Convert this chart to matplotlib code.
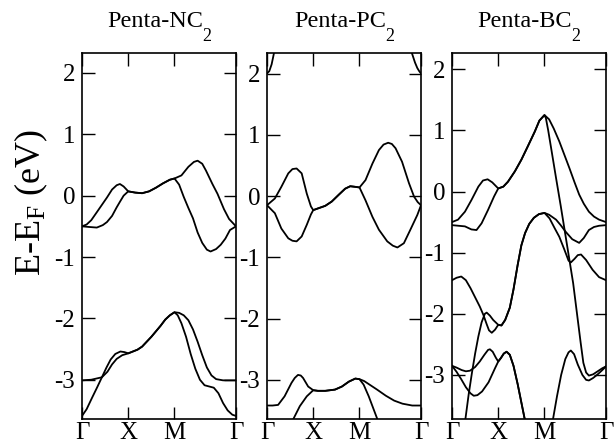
import matplotlib
matplotlib.use('Agg')
import matplotlib.pyplot as plt

plt.rcParams['font.family'] = ['Liberation Serif', 'DejaVu Serif']
plt.rcParams['mathtext.fontset'] = 'custom'
plt.rcParams['mathtext.rm'] = 'Liberation Serif'
plt.rcParams['mathtext.it'] = 'Liberation Serif:italic'
plt.rcParams['axes.unicode_minus'] = False

# k-path: Gamma = 0, X = 1, M = 2, Gamma = 3.33
kpts = [0, 1, 2, 3.33]
klabels = ['Γ', 'X', 'M', 'Γ']
titles = ['Penta-NC', 'Penta-PC', 'Penta-BC']
ylims = [(-3.64, 2.33), (-3.64, 2.34), (-3.72, 2.27)]

# ---- Penta-NC2 ----
nc2_c1_k = [0, 0.1, 0.2, 0.32, 0.43, 0.54, 0.65, 0.75, 0.82, 0.9, 1.0,
            1.15, 1.3, 1.45, 1.6, 1.75, 1.9, 2.0,
            2.15, 2.3, 2.42, 2.5, 2.6, 2.68, 2.82, 2.93, 3.07, 3.18, 3.33]
nc2_c1_e = [-0.5, -0.47, -0.4, -0.27, -0.15, -0.03, 0.1, 0.17, 0.19, 0.15, 0.07,
            0.05, 0.04, 0.07, 0.13, 0.2, 0.26, 0.28,
            0.33, 0.47, 0.55, 0.57, 0.52, 0.41, 0.19, 0.03, -0.22, -0.38, -0.5]
nc2_c2_k = [0, 0.15, 0.32, 0.45, 0.54, 0.65, 0.75, 0.82, 0.9, 1.0,
            1.15, 1.3, 1.45, 1.6, 1.75, 1.9, 2.0,
            2.1, 2.2, 2.3, 2.4, 2.5, 2.6, 2.7, 2.78, 2.9, 3.0, 3.1, 3.2, 3.33]
nc2_c2_e = [-0.5, -0.51, -0.52, -0.48, -0.43, -0.33, -0.19, -0.1, 0.0, 0.07,
            0.05, 0.04, 0.07, 0.13, 0.2, 0.26, 0.28,
            0.18, -0.02, -0.2, -0.37, -0.6, -0.77, -0.88, -0.91, -0.87, -0.8, -0.7, -0.56, -0.5]
nc2_v1_k = [0, 0.2, 0.43, 0.55, 0.65, 0.75, 0.87, 1.0,
            1.1, 1.2, 1.3, 1.4, 1.5, 1.6, 1.7, 1.8, 1.9, 2.0,
            2.1, 2.2, 2.3, 2.4, 2.5, 2.6, 2.7, 2.8, 2.9, 3.05, 3.2, 3.33]
nc2_v1_e = [-3.01, -3.0, -2.96, -2.87, -2.75, -2.66, -2.6, -2.57,
            -2.54, -2.51, -2.46, -2.38, -2.3, -2.21, -2.12, -2.02, -1.95, -1.9,
            -1.91, -1.95, -2.03, -2.18, -2.38, -2.6, -2.8, -2.93, -2.99, -3.01, -3.01, -3.01]
nc2_v2_k = [0, 0.1, 0.22, 0.33, 0.43, 0.53, 0.62, 0.72, 0.83, 0.92, 1.0,
            1.1, 1.2, 1.3, 1.4, 1.5, 1.6, 1.7, 1.8, 1.9, 2.0,
            2.07, 2.15, 2.25, 2.35, 2.45, 2.55, 2.65, 2.75, 2.85, 2.95, 3.05, 3.15, 3.25, 3.33]
nc2_v2_e = [-3.59, -3.48, -3.29, -3.12, -2.96, -2.8, -2.67, -2.58, -2.54, -2.55, -2.57,
            -2.54, -2.51, -2.46, -2.38, -2.3, -2.21, -2.12, -2.02, -1.95, -1.9,
            -1.95, -2.08, -2.3, -2.58, -2.82, -3.0, -3.09, -3.11, -3.13, -3.22, -3.38, -3.5, -3.57, -3.59]

# ---- Penta-PC2 ----
pc2_t1_k = [0, 0.05, 0.1, 0.15, 0.18]
pc2_t1_e = [2.0, 2.04, 2.15, 2.33, 2.45]
pc2_t2_k = [3.1, 3.13, 3.2, 3.25, 3.29, 3.33]
pc2_t2_e = [2.45, 2.34, 2.18, 2.09, 2.04, 2.0]
pc2_c1_k = [0, 0.17, 0.31, 0.46, 0.55, 0.64, 0.75, 0.86, 0.95, 1.0,
            1.11, 1.26, 1.4, 1.55, 1.69, 1.8, 1.91, 2.0,
            2.13, 2.28, 2.42, 2.52, 2.62, 2.7, 2.78, 2.92, 3.07, 3.18, 3.26, 3.33]
pc2_c1_e = [-0.15, -0.04, 0.15, 0.37, 0.44, 0.45, 0.37, 0.04, -0.17, -0.23,
            -0.2, -0.16, -0.09, 0.02, 0.12, 0.16, 0.15, 0.14,
            0.26, 0.53, 0.75, 0.84, 0.87, 0.85, 0.78, 0.56, 0.21, -0.01, -0.1, -0.15]
pc2_c2_k = [0, 0.17, 0.31, 0.46, 0.55, 0.64, 0.75, 0.86, 0.95, 1.0,
            1.11, 1.26, 1.4, 1.55, 1.69, 1.8, 1.91, 2.0,
            2.13, 2.28, 2.42, 2.6, 2.72, 2.82, 2.96, 3.1, 3.25, 3.33]
pc2_c2_e = [-0.15, -0.28, -0.53, -0.69, -0.73, -0.74, -0.66, -0.47, -0.3, -0.23,
            -0.2, -0.16, -0.09, 0.02, 0.12, 0.16, 0.15, 0.14,
            -0.07, -0.34, -0.55, -0.74, -0.81, -0.84, -0.77, -0.55, -0.31, -0.15]
pc2_v1_k = [0, 0.12, 0.24, 0.38, 0.53, 0.6, 0.67, 0.73, 0.78, 0.89, 1.0,
            1.1, 1.26, 1.47, 1.62, 1.77, 1.91, 2.0,
            2.1, 2.2, 2.38, 2.57, 2.75, 2.93, 3.14, 3.33]
pc2_v1_e = [-3.42, -3.42, -3.41, -3.27, -3.05, -2.97, -2.92, -2.93, -2.97, -3.11, -3.17,
            -3.18, -3.18, -3.16, -3.11, -3.03, -2.98, -2.99,
            -3.02, -3.07, -3.16, -3.26, -3.34, -3.39, -3.42, -3.42]
pc2_v2_k = [0.5, 0.57, 0.71, 0.86, 1.0,
            1.1, 1.26, 1.47, 1.62, 1.77, 1.91, 2.0,
            2.09, 2.2, 2.31, 2.38, 2.45]
pc2_v2_e = [-3.75, -3.64, -3.43, -3.27, -3.17,
            -3.18, -3.18, -3.16, -3.11, -3.03, -2.98, -2.99,
            -3.08, -3.27, -3.49, -3.63, -3.8]

# ---- Penta-BC2 ----
bc2_xm_top_k = [1.11, 1.21, 1.36, 1.5, 1.64, 1.79, 1.89, 2.0]
bc2_xm_top_e = [0.08, 0.16, 0.33, 0.52, 0.74, 0.98, 1.16, 1.25]
bc2_b1_k = [0, 0.13, 0.28, 0.42, 0.57, 0.67, 0.77, 0.87, 1.0] + bc2_xm_top_k + \
           [2.1, 2.2, 2.32, 2.43, 2.54, 2.65, 2.75, 2.85, 2.96, 3.07, 3.18, 3.33]
bc2_b1_e = [-0.5, -0.46, -0.33, -0.14, 0.08, 0.18, 0.2, 0.15, 0.05] + bc2_xm_top_e + \
           [1.18, 1.03, 0.82, 0.6, 0.38, 0.15, -0.05, -0.2, -0.33, -0.41, -0.46, -0.5]
bc2_b2_k = [0, 0.14, 0.28, 0.42, 0.53, 0.64, 0.78, 0.91, 1.0] + bc2_xm_top_k + \
           [2.03, 2.08, 2.15, 2.25, 2.35, 2.45, 2.55, 2.62, 2.7, 2.78, 2.84, 2.9, 2.96,
            3.05, 3.15, 3.25, 3.33]
bc2_b2_e = [-0.55, -0.56, -0.57, -0.62, -0.63, -0.52, -0.3, -0.08, 0.05] + bc2_xm_top_e + \
           [1.2, 1.0, 0.68, 0.22, -0.23, -0.7, -1.17, -1.5, -1.98, -2.46, -2.8, -2.96, -3.01,
            -2.99, -2.94, -2.89, -2.86]
bc2_xm_mid_k = [1.07, 1.15, 1.25, 1.33, 1.42, 1.5, 1.58, 1.67, 1.77, 1.88, 2.0]
bc2_xm_mid_e = [-2.19, -2.1, -1.9, -1.6, -1.2, -0.88, -0.68, -0.53, -0.43, -0.37, -0.35]
bc2_c1_k = [0, 0.1, 0.2, 0.3, 0.4, 0.5, 0.6, 0.68, 0.75, 0.8, 0.86, 0.93, 1.0] + bc2_xm_mid_k + \
           [2.1, 2.25, 2.35, 2.46, 2.6, 2.75, 2.85, 2.96, 3.07, 3.18, 3.33]
bc2_c1_e = [-1.45, -1.41, -1.39, -1.45, -1.58, -1.73, -1.88, -2.02, -2.17, -2.27, -2.31, -2.26, -2.18] + \
           bc2_xm_mid_e + [-0.38, -0.46, -0.55, -0.66, -0.78, -0.84, -0.76, -0.63, -0.58, -0.56, -0.55]
bc2_c2_k = [0.22, 0.29, 0.36, 0.43, 0.5, 0.57, 0.64, 0.71, 0.75, 0.82, 0.89, 1.0] + bc2_xm_mid_k + \
           [2.11, 2.22, 2.32, 2.43, 2.52, 2.57, 2.65, 2.72, 2.79, 2.9, 3.04, 3.18, 3.33]
bc2_c2_e = [-3.95, -3.72, -3.32, -2.97, -2.65, -2.37, -2.14, -2.0, -1.98, -2.03, -2.1, -2.18] + \
           bc2_xm_mid_e + [-0.44, -0.6, -0.74, -0.95, -1.13, -1.16, -1.1, -1.04, -1.03, -1.12, -1.28, -1.4, -1.45]
bc2_xm_low_k = [1.06, 1.12, 1.18, 1.25, 1.33, 1.42, 1.5, 1.58, 1.66]
bc2_xm_low_e = [-2.72, -2.65, -2.62, -2.67, -2.85, -3.15, -3.45, -3.75, -4.05]
bc2_e1_k = [0, 0.1, 0.21, 0.3, 0.39, 0.5, 0.6, 0.7, 0.78, 0.82, 0.88, 0.95, 1.0] + bc2_xm_low_k
bc2_e1_e = [-2.85, -2.88, -2.92, -2.94, -2.93, -2.87, -2.78, -2.67, -2.59, -2.58, -2.62, -2.72, -2.78] + bc2_xm_low_e
bc2_e2_k = [0, 0.1, 0.2, 0.3, 0.4, 0.47, 0.55, 0.65, 0.79, 0.93, 1.0] + bc2_xm_low_k
bc2_e2_e = [-2.85, -2.95, -3.07, -3.2, -3.3, -3.34, -3.33, -3.27, -3.12, -2.89, -2.78] + bc2_xm_low_e
bc2_r_k = [2.12, 2.18, 2.27, 2.36, 2.45, 2.52, 2.57, 2.64, 2.72, 2.82, 2.9, 2.96, 3.05, 3.15, 3.25, 3.33]
bc2_r_e = [-4.0, -3.74, -3.35, -3.0, -2.74, -2.63, -2.6, -2.66, -2.83, -3.0, -3.08, -3.09, -3.05, -2.99, -2.92, -2.86]

panels = [
    [(nc2_c1_k, nc2_c1_e), (nc2_c2_k, nc2_c2_e), (nc2_v1_k, nc2_v1_e), (nc2_v2_k, nc2_v2_e)],
    [(pc2_t1_k, pc2_t1_e), (pc2_t2_k, pc2_t2_e), (pc2_c1_k, pc2_c1_e), (pc2_c2_k, pc2_c2_e),
     (pc2_v1_k, pc2_v1_e), (pc2_v2_k, pc2_v2_e)],
    [(bc2_b1_k, bc2_b1_e), (bc2_b2_k, bc2_b2_e), (bc2_c1_k, bc2_c1_e), (bc2_c2_k, bc2_c2_e),
     (bc2_e1_k, bc2_e1_e), (bc2_e2_k, bc2_e2_e), (bc2_r_k, bc2_r_e)],
]

W, H = 614, 445
fig = plt.figure(figsize=(W / 100, H / 100), dpi=100)
lefts = [82, 267, 452]
w = 154 / W
b = 1 - 419 / H
h = (419 - 52.7) / H

axes = []
for i, bands in enumerate(panels):
    ax = fig.add_axes([lefts[i] / W, b, w, h])
    for k, e in bands:
        ax.plot(k, e, color='black', lw=1.3)
    ax.set_xlim(0, 3.33)
    ax.set_ylim(*ylims[i])
    ax.set_xticks(kpts)
    ax.set_xticklabels(klabels)
    ax.set_yticks([-3, -2, -1, 0, 1, 2])
    ax.tick_params(direction='in', length=9, width=1, labelsize=18,
                   top=True, right=True, pad=5)
    ax.tick_params(axis='x', pad=2)
    for s in ax.spines.values():
        s.set_linewidth(1.2)
    axes.append(ax)

axes[0].set_ylabel('E-E$_\\mathrm{F}$ (eV)', fontsize=26)
axes[0].yaxis.set_label_coords(-0.21, 0.59)

# titles with a low-set subscript, as in the original
renderer = fig.canvas.get_renderer()
for i, ax in enumerate(axes):
    xc = (lefts[i] + 77 - 4) / W
    t = fig.text(xc, (H - 27) / H, titles[i], ha='center', va='baseline', fontsize=17.5)
    bb = t.get_window_extent(renderer)
    fig.text((bb.x1 - 1) / W, (H - 41) / H, '2', ha='left', va='baseline', fontsize=13)

fig.savefig('out.png', dpi=100)
